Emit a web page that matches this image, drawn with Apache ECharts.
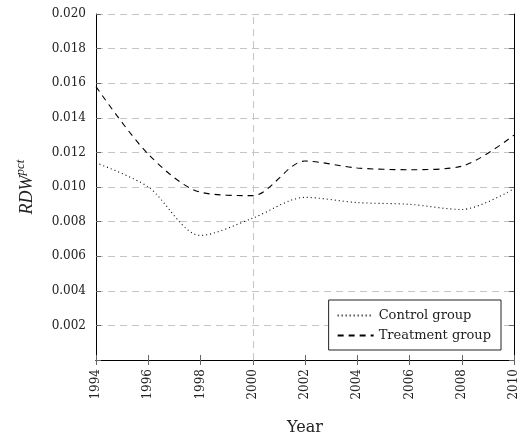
<!DOCTYPE html>
<html>
<head>
<meta charset="utf-8">
<script src="https://cdn.jsdelivr.net/npm/echarts@6/dist/echarts.min.js"></script>
<style>
  html, body { margin: 0; padding: 0; background: #fff; }
  #chart { width: 521px; height: 441px; }
</style>
</head>
<body>
<div id="chart"></div>
<script>
// Survey years (x axis categories)
const years = ['1994', '1996', '1998', '2000', '2002', '2004', '2006', '2008', '2010'];
// RDW^pct by group
const controlGroup = [0.0114, 0.0100, 0.0072, 0.0082, 0.0094, 0.0091, 0.0090, 0.0087, 0.0099];
const treatmentGroup = [0.0158, 0.0119, 0.0097, 0.0095, 0.0115, 0.0111, 0.0110, 0.0112, 0.0130];
// Year marking the reference point
const referenceYear = '2000';

const FONT = 'DejaVu Serif';
const TITLE_FONT = 'Liberation Serif';
const chart = echarts.init(document.getElementById('chart'), null, { renderer: 'canvas' });

const frameLine = { show: true, lineStyle: { color: '#000', width: 1 } };
const innerTick = { show: true, inside: true, length: 5, lineStyle: { color: '#666', width: 1 } };

chart.setOption({
  animation: false,
  backgroundColor: '#fff',
  grid: { left: 96, right: 7, top: 14, bottom: 80, containLabel: false },
  legend: {
    orient: 'vertical',
    right: 20,
    bottom: 91,
    backgroundColor: '#fff',
    borderColor: '#222',
    borderWidth: 1,
    borderRadius: 0,
    padding: [9, 10, 8, 8],
    itemGap: 7,
    itemWidth: 36,
    itemHeight: 14,
    itemStyle: { opacity: 0 },
    textStyle: { fontFamily: FONT, fontSize: 13, color: '#222' },
    data: ['Control group', 'Treatment group']
  },
  xAxis: [
    {
      type: 'category',
      data: years,
      boundaryGap: false,
      position: 'bottom',
      axisLine: frameLine,
      axisTick: innerTick,
      axisLabel: { rotate: 90, fontFamily: FONT, fontSize: 12, color: '#222', margin: 9 },
      splitLine: { show: false },
      name: 'Year',
      nameLocation: 'middle',
      nameGap: 60,
      nameTextStyle: { fontFamily: FONT, fontSize: 16, color: '#222' }
    },
    {
      type: 'category',
      data: years,
      boundaryGap: false,
      position: 'top',
      axisLine: frameLine,
      axisTick: innerTick,
      axisLabel: { show: false },
      splitLine: { show: false }
    }
  ],
  yAxis: [
    {
      type: 'value',
      min: 0,
      max: 0.02,
      interval: 0.002,
      position: 'left',
      axisLine: frameLine,
      axisTick: innerTick,
      axisLabel: {
        fontFamily: FONT, fontSize: 12, color: '#222', margin: 10,
        formatter: v => (v === 0 ? '' : v.toFixed(3))
      },
      splitLine: { show: true, lineStyle: { color: '#c4c4c4', type: [7, 5], width: 1 } },
      name: '{m|RDW}{s|pct}',
      nameLocation: 'middle',
      nameGap: 60,
      nameTextStyle: {
        rich: {
          m: { fontFamily: TITLE_FONT, fontStyle: 'italic', fontSize: 18, color: '#222', verticalAlign: 'bottom', lineHeight: 22 },
          s: { fontFamily: TITLE_FONT, fontStyle: 'italic', fontSize: 13, color: '#222', verticalAlign: 'top', lineHeight: 22 }
        }
      }
    },
    {
      type: 'value',
      min: 0,
      max: 0.02,
      interval: 0.002,
      position: 'right',
      axisLine: frameLine,
      axisTick: innerTick,
      axisLabel: { show: false },
      splitLine: { show: false }
    }
  ],
  series: [
    {
      name: 'Control group',
      type: 'line',
      data: controlGroup,
      smooth: 0.3,
      symbol: 'none',
      lineStyle: { color: '#000', width: 1.1, type: [1, 3] },
      itemStyle: { color: '#000' },
      markLine: {
        silent: true,
        symbol: 'none',
        label: { show: false },
        lineStyle: { color: '#c4c4c4', type: [7, 5], width: 1 },
        data: [{ xAxis: referenceYear }]
      }
    },
    {
      name: 'Treatment group',
      type: 'line',
      data: treatmentGroup,
      smooth: 0.3,
      symbol: 'none',
      lineStyle: { color: '#000', width: 1.1, type: [6, 5] },
      itemStyle: { color: '#000' }
    }
  ]
});
</script>
</body>
</html>
